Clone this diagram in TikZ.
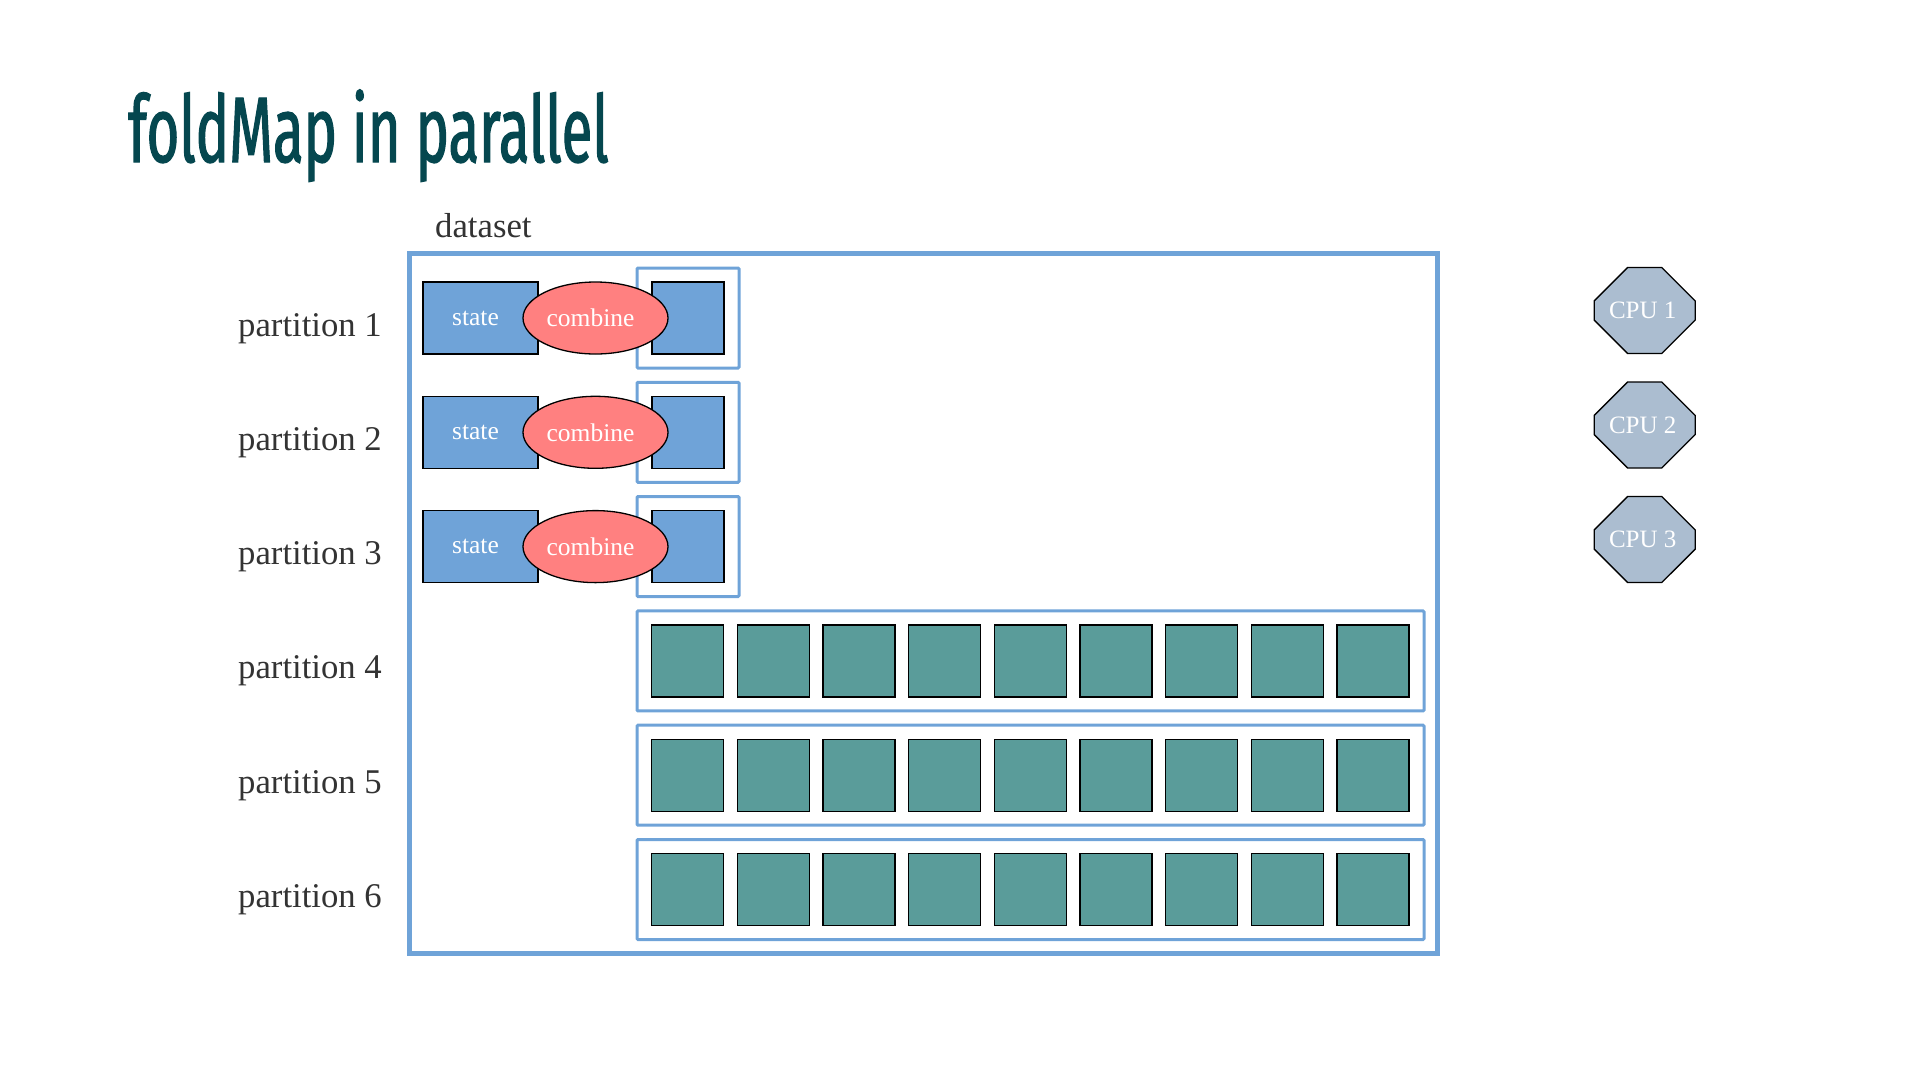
\documentclass[tikz,border=0pt]{standalone}
\usepackage{fontspec}
\setmainfont{Liberation Serif}
\newfontfamily\titlefont[FakeStretch=0.605,FakeBold=1.2]{Fira Sans}
\usetikzlibrary{shapes.geometric,shapes.misc}
\definecolor{titlecol}{HTML}{05474F}
\definecolor{boxblue}{HTML}{6FA3D8}
\definecolor{salmon}{HTML}{FF8080}
\definecolor{tealbox}{HTML}{5A9C9A}
\definecolor{cpucol}{HTML}{ABBDD0}
\definecolor{labgray}{HTML}{333333}
\tikzset{
  lab/.style={font=\fontsize{34.7}{40}\selectfont, text=labgray, inner sep=0pt, anchor=base west},
  statebox/.style={draw=black, line width=1.3pt, fill=boxblue, minimum width=115pt, minimum height=72pt, inner sep=0pt, text=white, font=\fontsize{25.5}{30}\selectfont},
  resbox/.style={draw=black, line width=1.3pt, fill=boxblue, minimum width=72pt, minimum height=72pt, inner sep=0pt},
  combell/.style={ellipse, draw=black, line width=1.3pt, fill=salmon, minimum width=145pt, minimum height=72pt, inner sep=0pt, text=white, font=\fontsize{25.5}{30}\selectfont},
  frame/.style={draw=boxblue, line width=3pt, rounded corners=1pt, minimum height=100pt, inner sep=0pt},
  elem/.style={draw=black, line width=1.3pt, fill=tealbox, minimum width=72pt, minimum height=72pt, inner sep=0pt},
  cpu/.style={chamfered rectangle, chamfered rectangle xsep=29.5pt, chamfered rectangle ysep=25pt, draw=black, line width=1.3pt, fill=cpucol, minimum width=101pt, minimum height=86pt, inner sep=0pt, text=white, font=\fontsize{25}{30}\selectfont},
}
\begin{document}
\begin{tikzpicture}[x=1pt, y=-1pt]
\useasboundingbox (0,0) rectangle (1920,1080);
% title
\node[anchor=base west, inner sep=0pt, text=titlecol, font=\titlefont\fontsize{93}{100}\selectfont] (title) at (128,162) {foldMap in parallel};
% dataset label
\node[lab] (dslab) at (435,237) {dataset};
% outer dataset box
\node[draw=boxblue, line width=5pt, minimum width=1028pt, minimum height=700pt, inner sep=0pt] (dataset) at (923,603) {};
% partition labels
\foreach \n in {1,...,6}{
  \pgfmathsetmacro{\cy}{318+114.3*(\n-1)}
  \node[lab] (part\n) at (238,\cy+18) {partition \n};
}
% partitions 1-3
\foreach \n in {1,2,3}{
  \pgfmathsetmacro{\cy}{318+114.3*(\n-1)}
  \node[frame, minimum width=102pt] (fr\n) at (688,\cy) {};
  \node[statebox] (st\n) at (480.5,\cy) {\kern-10pt\raisebox{-2pt}{state}};
  \node[resbox] (res\n) at (688,\cy) {};
  \node[combell] (cb\n) at (595.5,\cy) {\kern-10pt\raisebox{-1pt}{combine}};
}
% partitions 4-6
\foreach \n in {4,5,6}{
  \pgfmathsetmacro{\cy}{318+114.3*(\n-1)}
  \node[frame, minimum width=787pt] (fr\n) at (1030.5,\cy) {};
  \foreach \k in {0,...,8}{
    \node[elem] (sq\n-\k) at (687.7+85.67*\k,\cy) {};
  }
}
% CPUs
\foreach \i in {1,2,3}{
  \pgfmathsetmacro{\cy}{310.5+114.5*(\i-1)}
  \node[cpu] (cpu\i) at (1644.7,\cy) {\kern-4pt\raisebox{-1pt}{CPU \i}};
}
\end{tikzpicture}
\end{document}
